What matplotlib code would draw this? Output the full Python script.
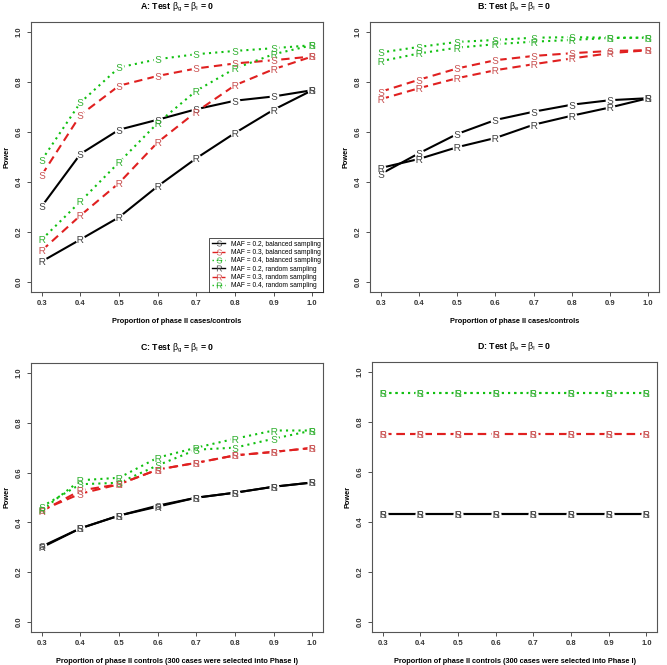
import numpy as np
import matplotlib
matplotlib.use("Agg")
import matplotlib.pyplot as plt

plt.rcParams['font.family'] = ['Liberation Sans', 'DejaVu Sans']
plt.rcParams['mathtext.fontset'] = 'custom'
plt.rcParams['mathtext.rm'] = 'Liberation Sans'
plt.rcParams['mathtext.it'] = 'Liberation Sans'
plt.rcParams['mathtext.bf'] = 'Liberation Sans:bold'

x = [0.3, 0.4, 0.5, 0.6, 0.7, 0.8, 0.9, 1.0]

# panel A
a_s2 = [0.303, 0.512, 0.609, 0.649, 0.691, 0.725, 0.742, 0.767]
a_s3 = [0.428, 0.668, 0.785, 0.824, 0.854, 0.874, 0.887, 0.902]
a_s4 = [0.488, 0.718, 0.858, 0.891, 0.911, 0.924, 0.935, 0.947]
a_r2 = [0.082, 0.170, 0.259, 0.383, 0.495, 0.596, 0.689, 0.767]
a_r3 = [0.126, 0.266, 0.396, 0.559, 0.681, 0.787, 0.851, 0.902]
a_r4 = [0.170, 0.322, 0.479, 0.636, 0.765, 0.854, 0.911, 0.947]

# panel B
b_s2 = [0.432, 0.515, 0.592, 0.648, 0.681, 0.709, 0.727, 0.735]
b_s3 = [0.761, 0.809, 0.854, 0.887, 0.904, 0.915, 0.924, 0.927]
b_s4 = [0.918, 0.940, 0.960, 0.968, 0.977, 0.979, 0.977, 0.977]
b_r2 = [0.456, 0.492, 0.539, 0.576, 0.629, 0.665, 0.698, 0.735]
b_r3 = [0.731, 0.775, 0.815, 0.847, 0.871, 0.894, 0.915, 0.927]
b_r4 = [0.883, 0.914, 0.937, 0.951, 0.961, 0.968, 0.976, 0.977]

# panel C
c_s2 = [0.303, 0.376, 0.427, 0.467, 0.499, 0.519, 0.543, 0.560]
c_s3 = [0.449, 0.515, 0.553, 0.612, 0.639, 0.669, 0.683, 0.699]
c_s4 = [0.463, 0.553, 0.559, 0.629, 0.692, 0.700, 0.736, 0.769]
c_r2 = [0.299, 0.376, 0.427, 0.463, 0.499, 0.519, 0.543, 0.560]
c_r3 = [0.445, 0.528, 0.553, 0.612, 0.639, 0.669, 0.683, 0.699]
c_r4 = [0.449, 0.569, 0.579, 0.660, 0.700, 0.736, 0.769, 0.769]

# panel D
d_s2 = [0.431] * 8
d_s3 = [0.750] * 8
d_s4 = [0.916] * 8
d_r2 = [0.431] * 8
d_r3 = [0.750] * 8
d_r4 = [0.916] * 8

labels = ["MAF = 0.2, balanced sampling", "MAF = 0.3, balanced sampling",
          "MAF = 0.4, balanced sampling", "MAF = 0.2, random sampling",
          "MAF = 0.3, random sampling", "MAF = 0.4, random sampling"]
cols = ["black", "#e02020", "#10c010"]
mcols = ["#404040", "#c85050", "#30b030"]
styles = ["-", (0, (4, 2.5)), (0, (1, 2))]
letters = ["S", "R"]

panels = [
    ("A: Test $\\beta_g$ = $\\beta_I$ = 0", "Proportion of phase II cases/controls",
     [a_s2, a_s3, a_s4, a_r2, a_r3, a_r4], [0.0465, 0.561, 0.438, 0.406]),
    ("B: Test $\\beta_e$ = $\\beta_I$ = 0", "Proportion of phase II cases/controls",
     [b_s2, b_s3, b_s4, b_r2, b_r3, b_r4], [0.555, 0.561, 0.433, 0.406]),
    ("C: Test $\\beta_g$ = $\\beta_I$ = 0",
     "Proportion of phase II controls (300 cases were selected into Phase I)",
     [c_s2, c_s3, c_s4, c_r2, c_r3, c_r4], [0.0465, 0.050, 0.438, 0.404]),
    ("D: Test $\\beta_e$ = $\\beta_I$ = 0",
     "Proportion of phase II controls (300 cases were selected into Phase I)",
     [d_s2, d_s3, d_s4, d_r2, d_r3, d_r4], [0.558, 0.050, 0.427, 0.406]),
]

fig = plt.figure(figsize=(6.67, 6.65), dpi=100)

for k, (title, xlab, series, pos) in enumerate(panels):
    ax = fig.add_axes(pos)
    handles = []
    for i, y in enumerate(series):
        c = cols[i % 3]
        ax.plot(x, y, color=c, ls=styles[i % 3], lw=1.5, zorder=2)
    for i, y in enumerate(series):
        ax.plot(x, y, ls="none", marker="o", ms=7, mfc="white", mec="none", zorder=3)
    for i, y in enumerate(series):
        c = cols[i % 3]
        lt = letters[i // 3]
        ax.plot(x, y, ls="none", marker="$%s$" % lt, ms=5, mew=0,
                color=mcols[i % 3], zorder=4)
        h, = ax.plot([], [], color=c, ls=styles[i % 3], lw=1.0,
                     marker="$%s$" % lt, ms=4.3, mew=0, mec=mcols[i % 3], mfc=mcols[i % 3])
        handles.append(h)
    ax.set_xlim(0.272, 1.028)
    ax.set_ylim(-0.04, 1.04)
    ax.set_xticks(x)
    ax.set_xticklabels(["%.1f" % v for v in x], fontsize=5.5, fontweight="bold")
    ax.set_yticks([0, 0.2, 0.4, 0.6, 0.8, 1.0])
    ax.set_yticklabels(["0.0", "0.2", "0.4", "0.6", "0.8", "1.0"], fontsize=5.5,
                       fontweight="bold", rotation=90, va="center")
    ax.tick_params(length=3, width=0.6, colors="#333333", pad=3)
    for s in ax.spines.values():
        s.set_color("#555555")
        s.set_linewidth(0.8)
    ax.set_title(title, fontsize=6.3, fontweight="bold", pad=9)
    ax.set_xlabel(xlab, fontsize=5.3, fontweight="bold", labelpad=8)
    ax.set_ylabel("Power", fontsize=5.3, fontweight="bold", labelpad=4)
    if k == 0:
        leg = ax.legend(handles, labels, loc="lower right", fontsize=4.8,
                        frameon=True, fancybox=False, borderaxespad=0,
                        handlelength=2.0, labelspacing=0.2, borderpad=0.4,
                        handletextpad=0.8)
        leg.get_frame().set_edgecolor("black")
        leg.get_frame().set_linewidth(0.6)

fig.savefig("out.png", dpi=100)
